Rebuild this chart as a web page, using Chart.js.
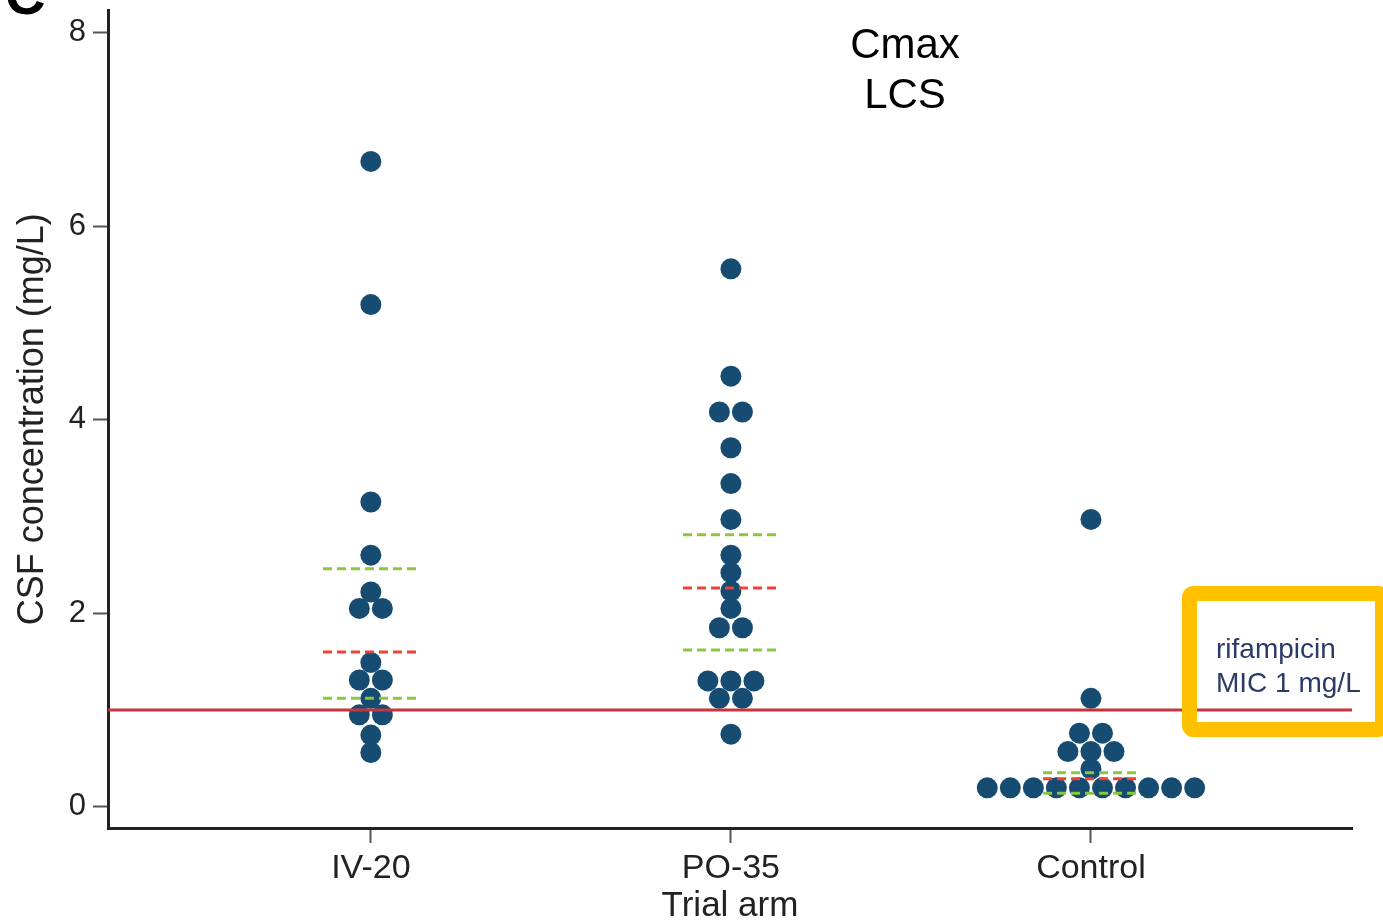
<!DOCTYPE html>
<html>
<head>
<meta charset="utf-8">
<title>Cmax LCS</title>
<script src="https://cdn.jsdelivr.net/npm/chart.js@4.4.1/dist/chart.umd.min.js"></script>
<style>
  html, body { margin: 0; padding: 0; background: #fff; }
  #wrap { width: 1383px; height: 922px; }
</style>
</head>
<body>
<div id="wrap"><canvas id="chartCmax"></canvas></div>
<script>
const arms = ['IV-20', 'PO-35', 'Control'];
const titleLines = ['Cmax', 'LCS'];

// CSF Cmax per patient (mg/L), one array per trial arm
const iv20 = [6.67, 5.19, 3.15, 2.60, 2.22, 2.05, 2.05, 1.49, 1.31, 1.31, 1.12, 0.95, 0.95, 0.74, 0.56];
const po35 = [5.56, 4.45, 4.08, 4.08, 3.71, 3.34, 2.97, 2.60, 2.42, 2.23, 2.05, 1.85, 1.85,
              1.30, 1.30, 1.30, 1.12, 1.12, 0.75];
const control = [2.97, 1.12, 0.76, 0.76, 0.57, 0.57, 0.57, 0.39,
                 0.195, 0.195, 0.195, 0.195, 0.195, 0.195, 0.195, 0.195, 0.195, 0.195];

// summary lines per arm (red middle, green band)
const middle = [1.60, 2.26, 0.29];
const upperBand = [2.46, 2.81, 0.35];
const lowerBand = [1.12, 1.62, 0.14];

const mic = 1;
const yTicks = [0, 2, 4, 6, 8];

const family = '"Liberation Sans", Arial, Helvetica, sans-serif';
const xMin = 0.27, xMax = 3.725;
const dotStep = 0.064;   // gap between dots sharing a row, in arm units
const halfWidth = 0.133; // half length of the summary dashes

// equal values share a row, centred on the arm
const swarm = (values, armIndex) => {
    const rows = new Map();
    values.forEach(v => {
        if (!rows.has(v)) rows.set(v, []);
        rows.get(v).push(v);
    });
    const pts = [];
    rows.forEach(row => {
        row.forEach((v, i) => pts.push({ x: armIndex + 1 + (i - (row.length - 1) / 2) * dotStep, y: v }));
    });
    return pts;
};

const segments = vals => vals.flatMap((v, i) => [
    { x: i + 1 - halfWidth, y: v },
    { x: i + 1 + halfWidth, y: v },
    { x: i + 1.5, y: null }
]);

const dots = [iv20, po35, control].flatMap((vals, i) => swarm(vals, i));

const dashed = (data, color) => ({
    data,
    showLine: true,
    borderColor: color,
    borderWidth: 3,
    borderDash: [9, 5],
    pointRadius: 0,
    spanGaps: false,
    order: 1
});

const extras = {
    id: 'extras',
    afterDraw(chart) {
        const ctx = chart.ctx;
        ctx.save();

        // panel letter, mostly off the top edge
        ctx.fillStyle = '#000';
        ctx.font = 'bold 56px ' + family;
        ctx.textAlign = 'left';
        ctx.textBaseline = 'alphabetic';
        ctx.fillText('C', 5, 14);

        ctx.font = '42px ' + family;
        ctx.textAlign = 'center';
        ctx.textBaseline = 'middle';
        titleLines.forEach((t, i) => ctx.fillText(t, 905, 46 + i * 50));

        // MIC callout
        ctx.strokeStyle = '#ffc000';
        ctx.lineWidth = 15;
        ctx.lineJoin = 'round';
        ctx.beginPath();
        ctx.roundRect(1189.5, 593.5, 193, 136, 4);
        ctx.stroke();

        ctx.fillStyle = '#2b3a67';
        ctx.font = '28px ' + family;
        ctx.textAlign = 'left';
        ctx.textBaseline = 'alphabetic';
        ctx.fillText('rifampicin', 1216, 658);
        ctx.fillText('MIC 1 mg/L', 1216, 692);

        ctx.restore();
    }
};

const axisGrid = {
    display: true,
    drawOnChartArea: false,
    drawTicks: true,
    tickLength: 15,
    tickWidth: 2,
    tickColor: '#555'
};
const axisBorder = { display: true, color: '#222', width: 3 };

const canvas = document.getElementById('chartCmax');
const ctx = canvas.getContext('2d');

const configChart = {
    type: 'scatter',
    data: {
        datasets: [
            dashed(segments(middle), '#ef4136'),
            dashed(segments(upperBand), '#8cc63f'),
            dashed(segments(lowerBand), '#8cc63f'),
            {
                data: [{ x: xMin, y: mic }, { x: xMax, y: mic }],
                showLine: true,
                borderColor: '#c9343c',
                borderWidth: 3,
                pointRadius: 0,
                order: 2
            },
            {
                data: dots,
                pointRadius: 10.5,
                pointBackgroundColor: '#164c72',
                pointBorderWidth: 0,
                order: 3
            }
        ]
    },
    options: {
        responsive: true,
        maintainAspectRatio: false,
        devicePixelRatio: 1,
        animation: false,
        layout: { padding: { top: 8, right: 31, left: 0, bottom: 0 } },
        plugins: {
            legend: { display: false },
            tooltip: { enabled: false }
        },
        scales: {
            x: {
                type: 'linear',
                min: xMin,
                max: xMax,
                afterFit: s => {
                    s.height = 94;
                    s.paddingLeft = 0;
                    s.paddingRight = 0;
                },
                afterBuildTicks: s => { s.ticks = arms.map((_, i) => ({ value: i + 1 })) },
                ticks: {
                    callback: v => arms[v - 1],
                    font: { size: 34, family },
                    color: '#222',
                    padding: 5,
                    maxRotation: 0
                },
                grid: axisGrid,
                border: axisBorder,
                title: {
                    display: true,
                    text: 'Trial arm',
                    font: { size: 35, family, lineHeight: 1 },
                    color: '#222',
                    padding: { top: 0, bottom: -2 }
                }
            },
            y: {
                min: -0.22,
                max: 8.23,
                afterFit: s => {
                    s.width = 108;
                    s.paddingTop = 0;
                    s.paddingBottom = 0;
                },
                afterBuildTicks: s => { s.ticks = yTicks.map(v => ({ value: v })) },
                ticks: { font: { size: 31, family }, color: '#222', padding: 7 },
                grid: axisGrid,
                border: axisBorder,
                title: {
                    display: true,
                    text: 'CSF concentration (mg/L)',
                    font: { size: 36, family, lineHeight: 1 },
                    color: '#222',
                    padding: { top: 15, bottom: 0 }
                }
            }
        }
    },
    plugins: [extras]
};

window.grafico = new Chart(ctx, configChart);
</script>
</body>
</html>
